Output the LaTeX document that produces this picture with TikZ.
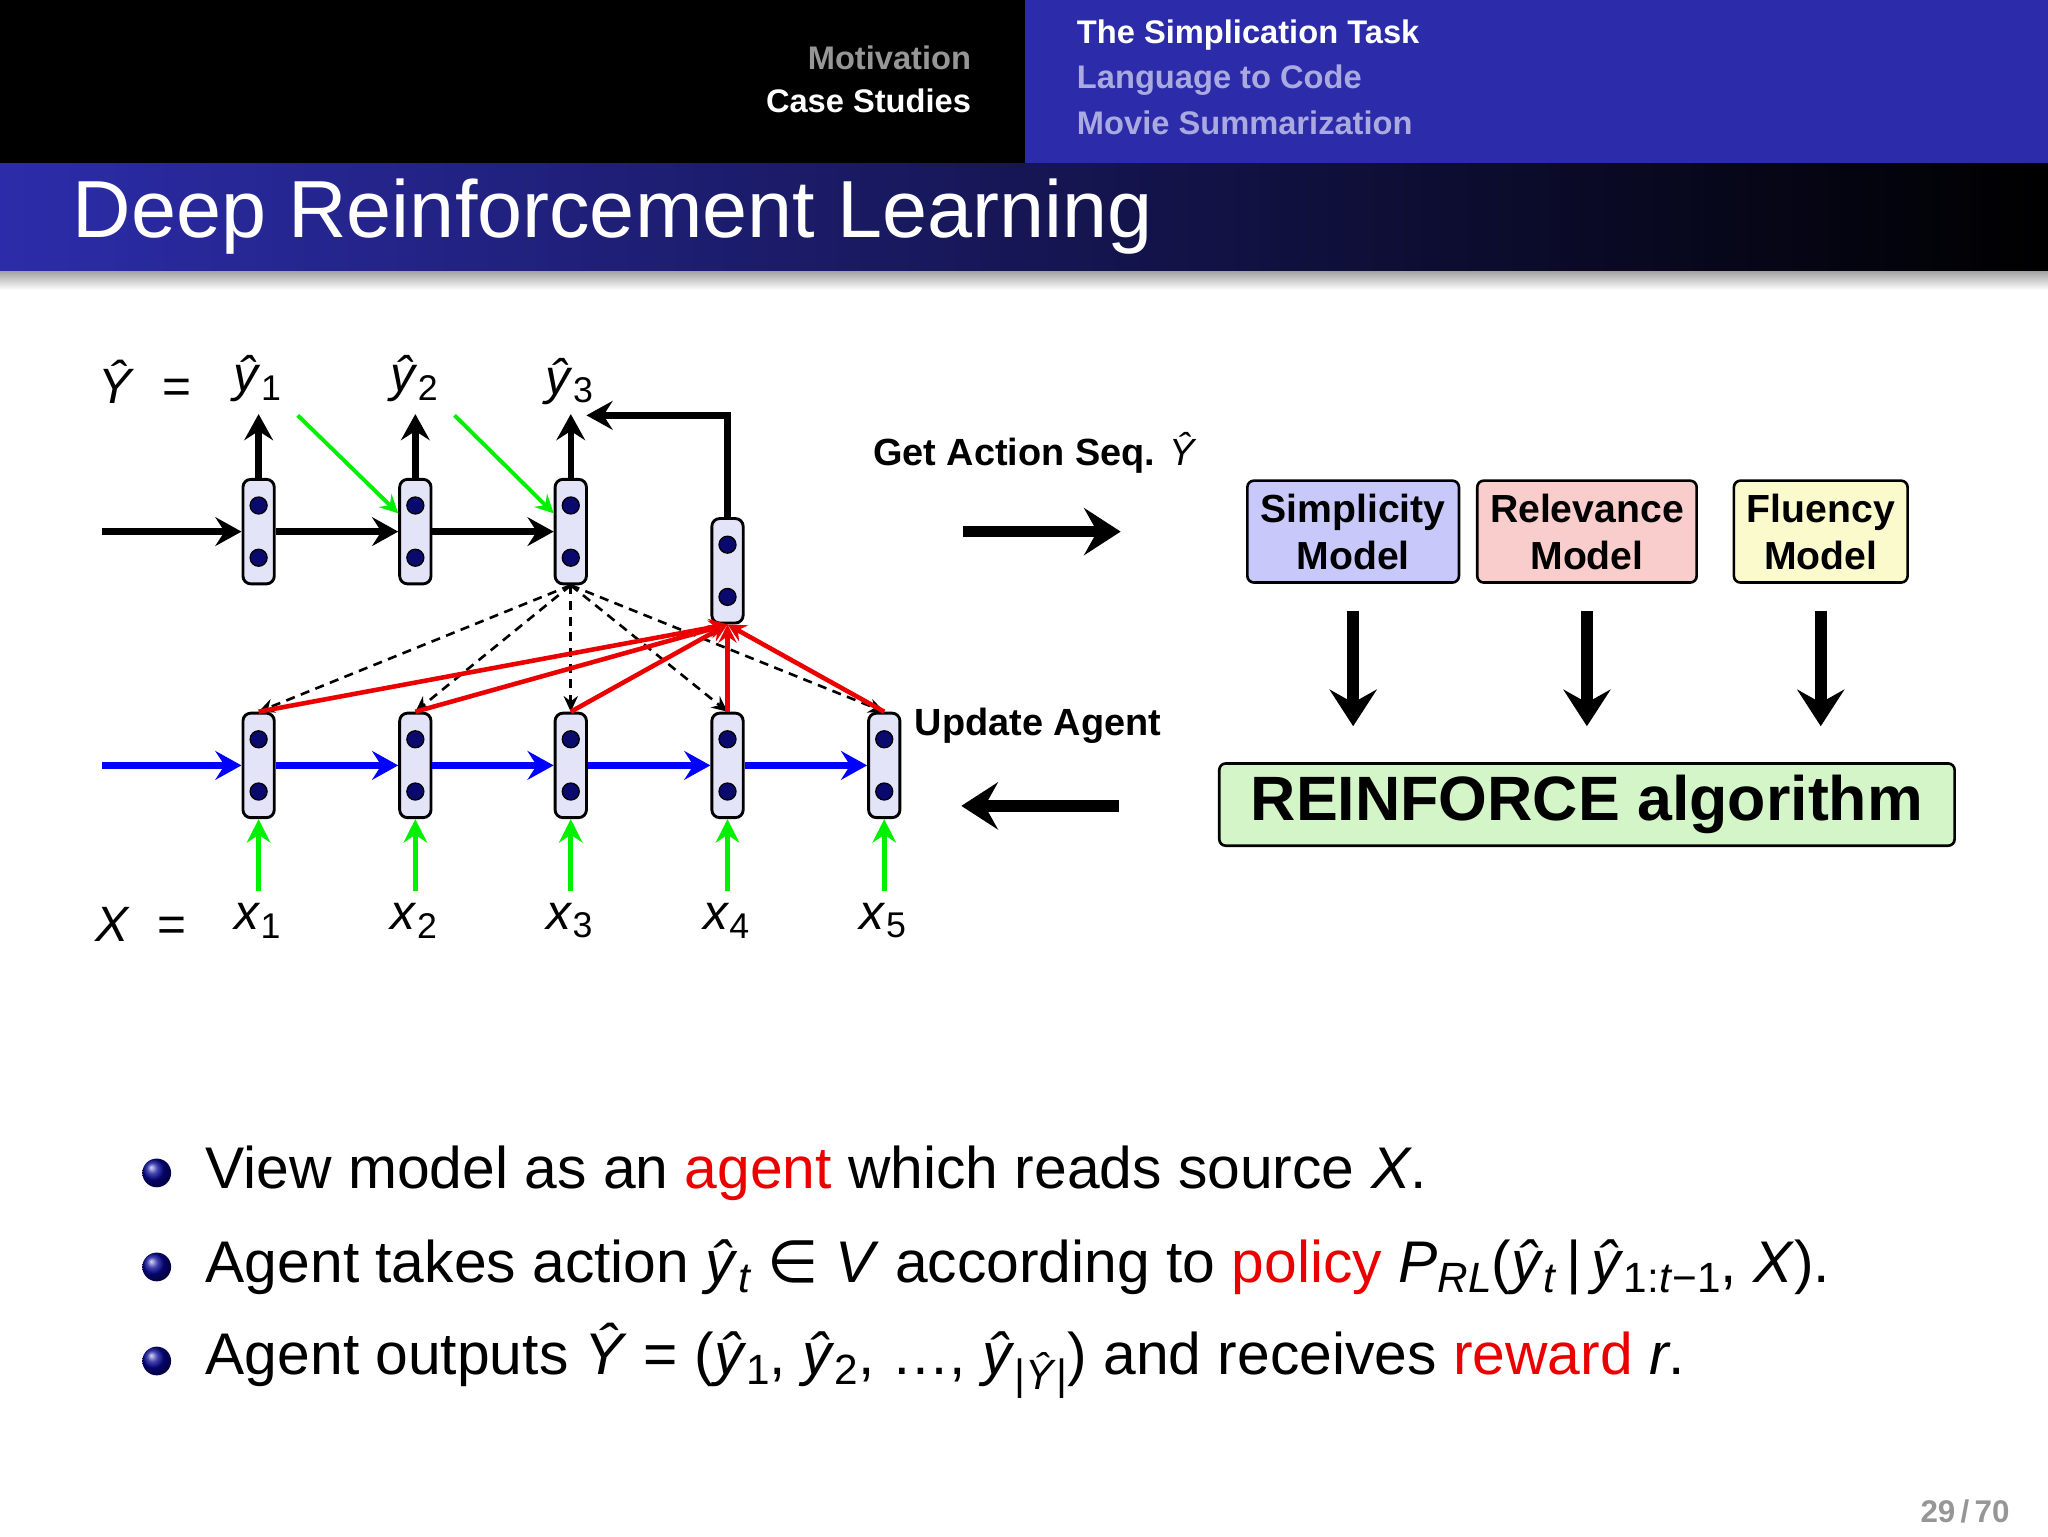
\documentclass[tikz,border=0pt]{standalone}
\usepackage{fontspec}
\setmainfont{Liberation Sans}
\newfontfamily\symf{DejaVu Sans}
\usetikzlibrary{arrows.meta,calc}
\newcommand{\yh}{\textit{ŷ}}
\newcommand{\Yh}{\textit{Ŷ}}
\newcommand{\sbs}[1]{\raisebox{-0.32ex}{\scalebox{0.72}{#1}}}
\newcommand{\myin}{{\symf ∈}}
\definecolor{hdrblue}{RGB}{44,44,170}
\definecolor{mgray}{RGB}{150,150,150}
\definecolor{lblue}{RGB}{170,170,225}
\definecolor{cellfill}{RGB}{228,228,248}
\definecolor{dotblue}{RGB}{10,10,110}
\definecolor{agreen}{RGB}{0,240,0}
\definecolor{simfill}{RGB}{200,200,250}
\definecolor{relfill}{RGB}{250,205,205}
\definecolor{flufill}{RGB}{250,250,205}
\definecolor{reifill}{RGB}{212,245,200}
\definecolor{hred}{RGB}{235,0,0}
\tikzset{
  x=1pt,y=-1pt,
  cell/.style={draw,line width=2.2pt,rounded corners=6pt,fill=cellfill,minimum width=24pt,minimum height=80pt,inner sep=0pt},
  dotc/.style={draw,fill=dotblue,circle,minimum size=13pt,inner sep=0pt,line width=1pt},
  thk/.style={line width=5pt,-{Stealth[length=20pt,width=22pt,inset=7pt]}},
  grn/.style={agreen,line width=4pt,-{Stealth[length=18pt,width=18pt,inset=6pt]}},
  grd/.style={agreen,line width=3pt,-{Stealth[length=14pt,width=14pt,inset=5pt]}},
  rd/.style={hred,line width=3.5pt,-{Stealth[length=14pt,width=14pt,inset=5pt]}},
  dsh/.style={line width=2pt,dash pattern=on 7pt off 5pt,-{Stealth[length=12pt,width=11pt,inset=4pt]}},
  big/.style={line width=9pt,-{Stealth[length=28pt,width=36pt,inset=10pt]}},
  mbox/.style={draw,line width=2pt,rounded corners=5pt,align=center,font=\fontsize{30}{36}\selectfont\bfseries,inner sep=0pt},
  lab/.style={font=\fontsize{38}{40}\selectfont,inner sep=0pt},
  btxt/.style={anchor=west,font=\fontsize{45}{47}\selectfont},
}
\begin{document}
\begin{tikzpicture}
\useasboundingbox (0,0) rectangle (1568,1176);
\fill[white] (0,0) rectangle (1568,1176);
\fill[black] (0,0) rectangle (785,125);
\fill[hdrblue] (785,0) rectangle (1568,125);
\shade[left color=hdrblue,right color=black] (0,125) rectangle (1568,208);
\shade[top color=black!35,bottom color=white] (0,208) rectangle (1568,222);
\node[anchor=east,text=mgray,font=\fontsize{25}{26}\selectfont\bfseries] (h1) at (747,44) {Motivation};
\node[anchor=east,text=white,font=\fontsize{25}{26}\selectfont\bfseries] (h2) at (747,77) {Case Studies};
\node[anchor=west,text=white,font=\fontsize{25}{26}\selectfont\bfseries] (h3) at (821,27) {The Simplication Task};
\node[anchor=west,text=lblue,font=\fontsize{25}{26}\selectfont\bfseries] (h4) at (821,61) {Language to Code};
\node[anchor=west,text=lblue,font=\fontsize{25}{26}\selectfont\bfseries] (h5) at (821,94) {Movie Summarization};
\node[anchor=west,text=white,font=\fontsize{62}{64}\selectfont] (title) at (52,166) {Deep Reinforcement Learning};

% cells
\foreach \n/\x in {1/198,2/318,3/437}{
  \node[cell] (d\n) at (\x,407) {};
  \node[dotc] (dd\n a) at (\x,387) {};
  \node[dotc] (dd\n b) at (\x,427) {};
}
\node[cell] (d4) at (557,437) {};
\node[dotc] (dd4a) at (557,417) {};
\node[dotc] (dd4b) at (557,457) {};
\foreach \n/\x in {1/198,2/318,3/437,4/557,5/677}{
  \node[cell] (e\n) at (\x,586) {};
  \node[dotc] (ee\n a) at (\x,566) {};
  \node[dotc] (ee\n b) at (\x,606) {};
  \coordinate (xs\n) at (\x,682);
  \draw[grn] (xs\n) -- (e\n.south);
}
\foreach \n/\x in {1/198,2/318,3/437}{ \coordinate (yt\n) at (\x,317); \draw[thk] (d\n.north) -- (yt\n);}
\node[lab] (yl1) at (197,290) {\yh\sbs{1}};
\node[lab] (yl2) at (317,290) {\yh\sbs{2}};
\node[lab] (yl3) at (436,292) {\yh\sbs{3}};
\node[lab] (Yl) at (111,292) {\Yh\ \ =};
\node[lab] (Xl) at (108,708) {\textit{X}\ \ =};
\foreach \n/\x in {1/197,2/317,3/436,4/556,5/676}{\node[lab] (xl\n) at (\x,705) {\textit{x}\sbs{\n}};}
% green diagonal
\coordinate (g1) at (228,318); \coordinate (g2) at (348,318);
\draw[grd] (g1) -- (d2.west |- 0,393);
\draw[grd] (g2) -- (d3.west |- 0,393);
% horizontal black
\coordinate (hs) at (78,407);
\draw[thk] (hs) -- (d1.west);
\draw[thk] (d1.east) -- (d2.west);
\draw[thk] (d2.east) -- (d3.west);
\coordinate (fb) at (557,318); \coordinate (fbe) at (449,318);
\draw[thk] (d4.north) -- (fb) -- (fbe);
% blue
\coordinate (bs) at (78,586);
\draw[thk,blue] (bs) -- (e1.west);
\foreach \a/\b in {1/2,2/3,3/4,4/5}{\draw[thk,blue] (e\a.east) -- (e\b.west);}
% dashed
\foreach \n in {1,2,3,4,5}{\draw[dsh] (d3.south) -- (e\n.north);}
% red
\foreach \n in {1,2,3,4,5}{\draw[rd] (e\n.north) -- (d4.south);}
% arrows middle
\node[anchor=west,font=\fontsize{29}{30}\selectfont\bfseries] (ga) at (665,347) {Get Action Seq. \mdseries\Yh};
\coordinate (a1) at (737,407); \coordinate (a2) at (858,407);
\draw[big] (a1) -- (a2);
\node[anchor=west,font=\fontsize{29}{30}\selectfont\bfseries] (ua) at (697,556) {Update Agent};
\coordinate (b1) at (857,617); \coordinate (b2) at (736,617);
\draw[big] (b1) -- (b2);
% boxes
\node[mbox,fill=simfill,minimum width=162pt,minimum height=78pt] (sim) at (1036,407) {Simplicity\\Model};
\node[mbox,fill=relfill,minimum width=168pt,minimum height=78pt] (rel) at (1215,407) {Relevance\\Model};
\node[mbox,fill=flufill,minimum width=133pt,minimum height=78pt] (flu) at (1394,407) {Fluency\\Model};
\node[draw,line width=2pt,rounded corners=5pt,fill=reifill,minimum width=563pt,minimum height=63pt,inner sep=0pt,font=\fontsize{48}{50}\selectfont\bfseries] (rei) at (1215,616) {REINFORCE algorithm};
\foreach \n/\x in {sim/1036,rel/1215,flu/1394}{
  \coordinate (s\n) at (\x,468); \coordinate (t\n) at (\x,556);
  \draw[big] (s\n) -- (t\n);}
% bullets
\foreach \n/\y in {1/898,2/970,3/1042}{
  \shade[ball color=dotblue!70!blue] (120,\y) circle (11pt);
}
\node[btxt] (b1t) at (154,898) {View model as an \textcolor{hred}{agent} which reads source \textit{X}.};
\node[btxt] (b2t) at (154,970) {Agent takes action \yh\sbs{\textit{t}} \myin{} \textit{V} according to \textcolor{hred}{policy} \textit{P}\sbs{\textit{RL}}(\yh\sbs{\textit{t}}\,|\,\yh\sbs{1:\textit{t}−1}, \textit{X}).};
\node[btxt] (b3t) at (154,1042) {Agent outputs \Yh{} = (\yh\sbs{1}, \yh\sbs{2}, \dots, \yh\raisebox{-0.5ex}{\scalebox{0.72}{|\Yh|}}) and receives \textcolor{hred}{reward} \textit{r}.};
\node[anchor=east,text=mgray,font=\fontsize{24}{26}\selectfont\bfseries] (pg) at (1542,1157) {29\,/\,70};
\end{tikzpicture}
\end{document}
